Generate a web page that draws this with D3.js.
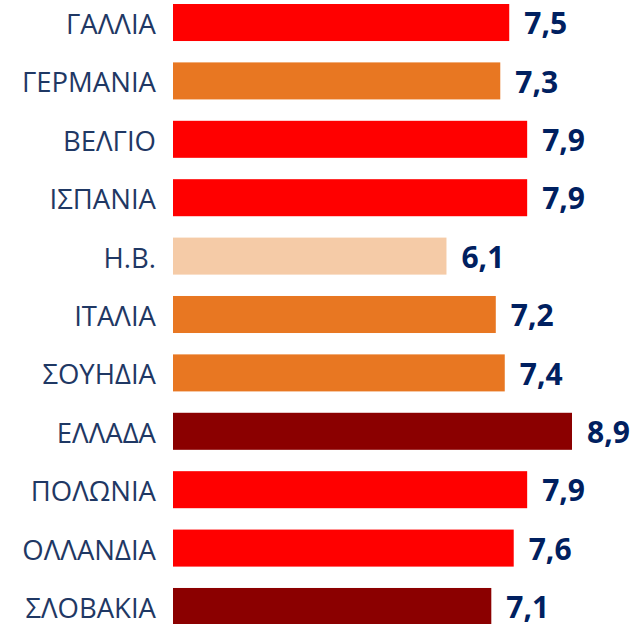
<!DOCTYPE html>
<html>
<head>
<meta charset="utf-8">
<script src="https://cdn.jsdelivr.net/npm/d3@7"></script>
<style>
  body { margin: 0; background: #fff; }
</style>
</head>
<body>
<div id="chart"></div>
<script>
// data
var countries = ["ΓΑΛΛΙΑ", "ΓΕΡΜΑΝΙΑ", "ΒΕΛΓΙΟ", "ΙΣΠΑΝΙΑ", "Η.Β.", "ΙΤΑΛΙΑ",
                 "ΣΟΥΗΔΙΑ", "ΕΛΛΑΔΑ", "ΠΟΛΩΝΙΑ", "ΟΛΛΑΝΔΙΑ", "ΣΛΟΒΑΚΙΑ"];
var values = [7.5, 7.3, 7.9, 7.9, 6.1, 7.2, 7.4, 8.9, 7.9, 7.6, 7.1];
// colour group of each bar
var groups = ["A", "B", "A", "A", "C", "B", "B", "D", "A", "A", "D"];

var width = 639,
    height = 624;

var svg = d3.select("#chart")
    .append("svg")
    .attr("width", width)
    .attr("height", height);

var x = d3.scaleLinear()
    .domain([0, 8.9])
    .range([173, 572]);

var y = d3.scaleBand()
    .domain(countries)
    .range([4, 625])
    .paddingInner(0.366)
    .paddingOuter(0);

var color = d3.scaleOrdinal()
    .domain(["A", "B", "C", "D"])
    .range(["#FF0000", "#E87722", "#F5CBA7", "#8B0000"]);

var fmt = d3.formatLocale({decimal: ",", thousands: ".", grouping: [3], currency: ["", "€"]}).format(".1f");

var dat = countries.map((c, i) => ({name: c, value: values[i], group: groups[i]}));

// bars
svg.append("g").selectAll("rect")
    .data(dat)
    .enter()
    .append("rect")
    .attr("x", x(0))
    .attr("y", d => y(d.name))
    .attr("width", d => x(d.value) - x(0))
    .attr("height", y.bandwidth())
    .attr("fill", d => color(d.group));

// category labels
svg.append("g").selectAll("text")
    .data(dat)
    .enter()
    .append("text")
    .attr("x", 156)
    .attr("y", d => y(d.name) + y.bandwidth() / 2)
    .attr("dy", "0.42em")
    .style("text-anchor", "end")
    .style("font-family", "Open Sans")
    .style("font-size", "27.5px")
    .style("fill", "#1F3864")
    .text(d => d.name);

// value labels
svg.append("g").selectAll("text")
    .data(dat)
    .enter()
    .append("text")
    .attr("x", d => x(d.value) + 15)
    .attr("y", d => y(d.name) + y.bandwidth() / 2)
    .attr("dy", "0.39em")
    .style("text-anchor", "start")
    .style("font-family", "Open Sans")
    .style("font-weight", "bold")
    .style("font-size", "30px")
    .style("fill", "#002060")
    .text(d => fmt(d.value));
</script>
</body>
</html>
